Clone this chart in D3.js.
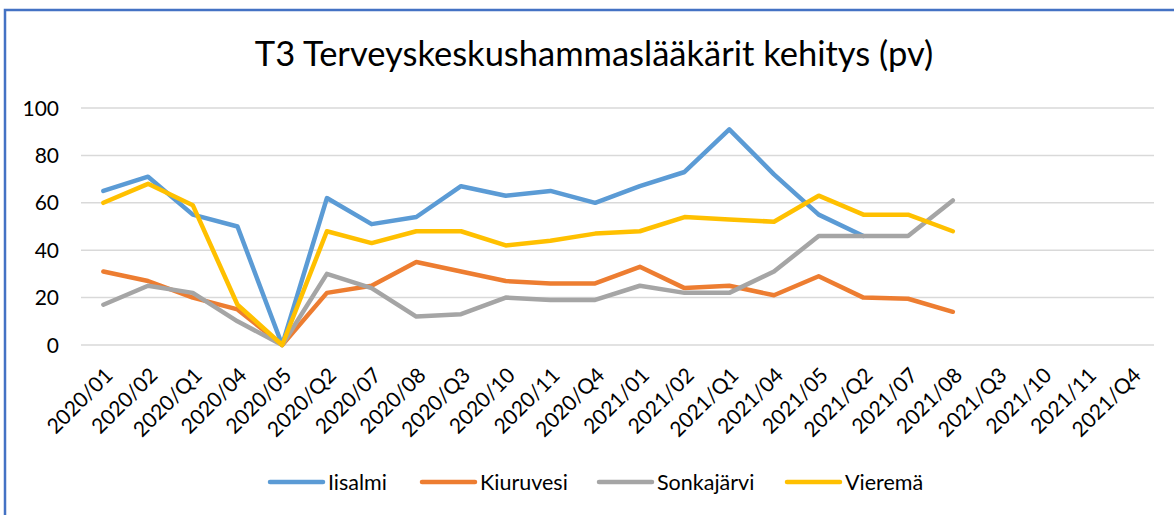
<!DOCTYPE html>
<html>
<head>
<meta charset="utf-8">
<script src="https://cdn.jsdelivr.net/npm/d3@7"></script>
<style>
  body { margin: 0; background: #fff; }
  svg { display: block; font-family: Lato, "Open Sans", sans-serif; }
</style>
</head>
<body>
<svg width="1174" height="515"></svg>
<script>
const categories = [
  "2020/01", "2020/02", "2020/Q1", "2020/04", "2020/05", "2020/Q2",
  "2020/07", "2020/08", "2020/Q3", "2020/10", "2020/11", "2020/Q4",
  "2021/01", "2021/02", "2021/Q1", "2021/04", "2021/05", "2021/Q2",
  "2021/07", "2021/08", "2021/Q3", "2021/10", "2021/11", "2021/Q4"
];

const iisalmi    = [65, 71, 55, 50, 0, 62, 51, 54, 67, 63, 65, 60, 67, 73, 91, 72, 55, 46];
const kiuruvesi  = [31, 27, 20, 15, 0, 22, 25, 35, 31, 27, 26, 26, 33, 24, 25, 21, 29, 20, 19.5, 14];
const sonkajarvi = [17, 25, 22, 10, 0, 30, 24, 12, 13, 20, 19, 19, 25, 22, 22, 31, 46, 46, 46, 61];
const vierema    = [60, 68, 59, 17, 0, 48, 43, 48, 48, 42, 44, 47, 48, 54, 53, 52, 63, 55, 55, 48];

const seriesNames = ["Iisalmi", "Kiuruvesi", "Sonkajärvi", "Vieremä"];
const seriesValues = [iisalmi, kiuruvesi, sonkajarvi, vierema];
const colors = ["#5B9BD5", "#ED7D31", "#A5A5A5", "#FFC000"];
const yTicks = [0, 20, 40, 60, 80, 100];

const svg = d3.select("svg"),
      width = +svg.attr("width"),
      height = +svg.attr("height");

// chart border (only left and top are visible in the crop)
svg.append("path")
  .attr("d", `M5,${height} L5,10 L${width},10`)
  .attr("fill", "none")
  .attr("stroke", "#4472C4")
  .attr("stroke-width", 2.5);

svg.append("text")
  .attr("x", 594)
  .attr("y", 66)
  .attr("text-anchor", "middle")
  .attr("font-size", 34.5)
  .attr("fill", "#000")
  .text("T3 Terveyskeskushammaslääkärit kehitys (pv)");

const x = d3.scaleBand()
  .domain(categories)
  .range([81, 1154]);

const y = d3.scaleLinear()
  .domain([0, 100])
  .range([345, 108]);

// gridlines
svg.append("g")
  .selectAll("line")
  .data(yTicks)
  .enter()
  .append("line")
  .attr("x1", 81)
  .attr("x2", 1154)
  .attr("y1", d => y(d))
  .attr("y2", d => y(d))
  .attr("stroke", "#D9D9D9")
  .attr("stroke-width", 1.5);

// y labels
svg.append("g")
  .selectAll("text")
  .data(yTicks)
  .enter()
  .append("text")
  .attr("x", 59)
  .attr("y", d => y(d))
  .attr("dy", "0.36em")
  .attr("text-anchor", "end")
  .attr("font-size", 21)
  .attr("fill", "#000")
  .text(d => d);

// x labels, rotated
svg.append("g")
  .selectAll("text")
  .data(categories)
  .enter()
  .append("text")
  .attr("transform", d => `translate(${x(d) + x.bandwidth() / 2},366) rotate(-45)`)
  .attr("dy", "0.72em")
  .attr("text-anchor", "end")
  .attr("font-size", 21)
  .attr("fill", "#000")
  .text(d => d);

const line = d3.line()
  .defined(d => d != null)
  .x((d, i) => x(categories[i]) + x.bandwidth() / 2)
  .y(d => y(d));

svg.append("g")
  .selectAll("path")
  .data(seriesValues)
  .enter()
  .append("path")
  .attr("d", d => line(d))
  .attr("fill", "none")
  .attr("stroke", (d, i) => colors[i])
  .attr("stroke-width", 4.5)
  .attr("stroke-linejoin", "round")
  .attr("stroke-linecap", "round");

// legend
const legendX = [268, 420, 597, 785];
const legend = svg.append("g")
  .selectAll("g")
  .data(seriesNames)
  .enter()
  .append("g")
  .attr("transform", (d, i) => `translate(${legendX[i]},482)`);

legend.append("line")
  .attr("x1", 2)
  .attr("x2", 55)
  .attr("stroke", (d, i) => colors[i])
  .attr("stroke-width", 4.5)
  .attr("stroke-linecap", "round");

legend.append("text")
  .attr("x", 60)
  .attr("dy", "0.36em")
  .attr("font-size", 21.5)
  .attr("fill", "#000")
  .text(d => d);
</script>
</body>
</html>
